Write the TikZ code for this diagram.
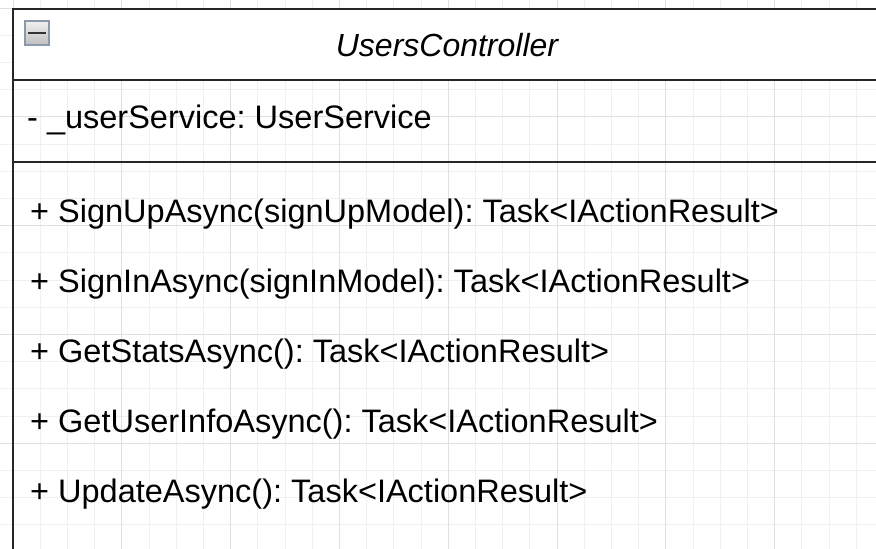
\documentclass[tikz,border=0pt]{standalone}
\usepackage{fontspec}
\setmainfont{Liberation Sans}
\frenchspacing
\begin{document}
\begin{tikzpicture}[x=1pt,y=-1pt,
  gridlight/.style={draw=black!6,line width=1pt},
  griddark/.style={draw=black!12,line width=1pt},
  umlline/.style={draw=black!85,line width=2.6pt},
  member/.style={anchor=base west,inner sep=0pt,font=\fontsize{32.5}{38}\selectfont},
  classtitle/.style={anchor=base,inner sep=0pt,font=\fontsize{32}{38}\selectfont\itshape}]
\useasboundingbox (0,0) rectangle (876,549);
\clip (0,0) rectangle (876,549);
\fill[white] (0,0) rectangle (876,549);
% grid
\foreach \i in {0,...,32} { \draw[gridlight] ({13+27.2*\i},0) -- ({13+27.2*\i},549); }
\foreach \j in {0,...,20} { \draw[gridlight] (0,{8+27.2*\j}) -- (876,{8+27.2*\j}); }
\foreach \i in {0,4,...,32} { \draw[griddark] ({13+27.2*\i},0) -- ({13+27.2*\i},549); }
\foreach \j in {0,4,...,20} { \draw[griddark] (0,{8+27.2*\j}) -- (876,{8+27.2*\j}); }
% class box
\coordinate (tl) at (13,9);
\coordinate (tr) at (895,9);
\coordinate (hl) at (13,80);
\coordinate (hr) at (895,80);
\coordinate (al) at (13,162);
\coordinate (ar) at (895,162);
\coordinate (bl) at (13,570);
\fill[white] (tl) rectangle (hr);
\draw[umlline] (tr) -- (tl) -- (bl);
\draw[umlline] (hl) -- (hr);
\draw[umlline] (al) -- (ar);
% collapse icon
\node (icon) [draw={rgb,255:red,140;green,152;blue,172},line width=1.3pt,
  top color=black!6,bottom color=black!25,minimum width=24pt,minimum height=24pt,
  inner sep=0pt] at (37,33) {};
\draw[black!80,line width=2.2pt] ([xshift=3.5pt]icon.west) -- ([xshift=-3.5pt]icon.east);
% texts
\node (title) [classtitle] at (447,56.7) {UsersController};
\node (attr) [member] at (27,128.3) {- \_userService: UserService};
\node (m1) [member] at (30,222) {+ SignUpAsync(signUpModel): Task<IActionResult>};
\node (m2) [member] at (30,292) {+ SignInAsync(signInModel): Task<IActionResult>};
\node (m3) [member] at (30,362) {+ GetStatsAsync(): Task<IActionResult>};
\node (m4) [member] at (30,432) {+ GetUserInfoAsync(): Task<IActionResult>};
\node (m5) [member] at (30,502) {+ UpdateAsync(): Task<IActionResult>};
\end{tikzpicture}
\end{document}
